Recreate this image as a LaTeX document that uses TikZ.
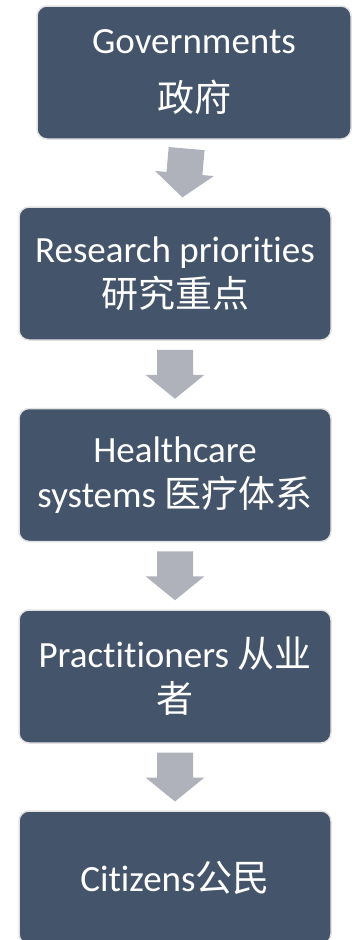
\documentclass[tikz,border=0pt]{standalone}
\usepackage{fontspec}
\setmainfont{Carlito}[Ligatures={NoCommon,NoContextual}]
\newfontfamily\cjk{Noto Sans CJK SC}
\usetikzlibrary{calc}
\definecolor{boxfill}{HTML}{44546A}
\definecolor{boxline}{HTML}{E2E2E2}
\definecolor{arrowfill}{HTML}{AFB2BA}
\newcommand\downblock[2][0]{%
  \begin{scope}[shift={(#2)}, rotate=#1]
    \fill[arrowfill] (-18,-24.5) -- (18,-24.5) -- (18,0.5) -- (29.5,0.5) -- (0,24.5) -- (-29.5,0.5) -- (-18,0.5) -- cycle;
  \end{scope}}
\begin{document}
\begin{tikzpicture}[x=1pt,y=-1pt,
  flowbox/.style={rectangle, rounded corners=10pt, fill=boxfill, draw=boxline,
    line width=1.5pt, text=white, align=center, inner sep=0pt,
    minimum height=133pt, font=\fontsize{37}{45}\selectfont}]
\useasboundingbox (0,0) rectangle (360,940);
\node[flowbox, minimum width=314pt] (b1) at (194,72.5) {Governments\\[13pt]{\cjk 政府}};
\node[flowbox, minimum width=312pt] (b2) at (175,273.5) {Research priorities\\{\cjk 研究重点}};
\node[flowbox, minimum width=312pt] (b3) at (175,475) {Healthcare\\systems {\cjk 医疗体系}};
\node[flowbox, minimum width=312pt] (b4) at (175,676.5) {Practitioners {\cjk 从业}\\{\cjk 者}};
\node[flowbox, minimum width=312pt] (b5) at (175,877.5) {Citizens{\cjk 公民}};
\coordinate (a1) at ($(b1.south)!0.5!(b2.north)$);
\coordinate (a2) at ($(b2.south)!0.5!(b3.north)$);
\coordinate (a3) at ($(b3.south)!0.5!(b4.north)$);
\coordinate (a4) at ($(b4.south)!0.5!(b5.north)$);
\downblock[-5]{a1}
\downblock{a2}
\downblock{a3}
\downblock{a4}
\end{tikzpicture}
\end{document}
